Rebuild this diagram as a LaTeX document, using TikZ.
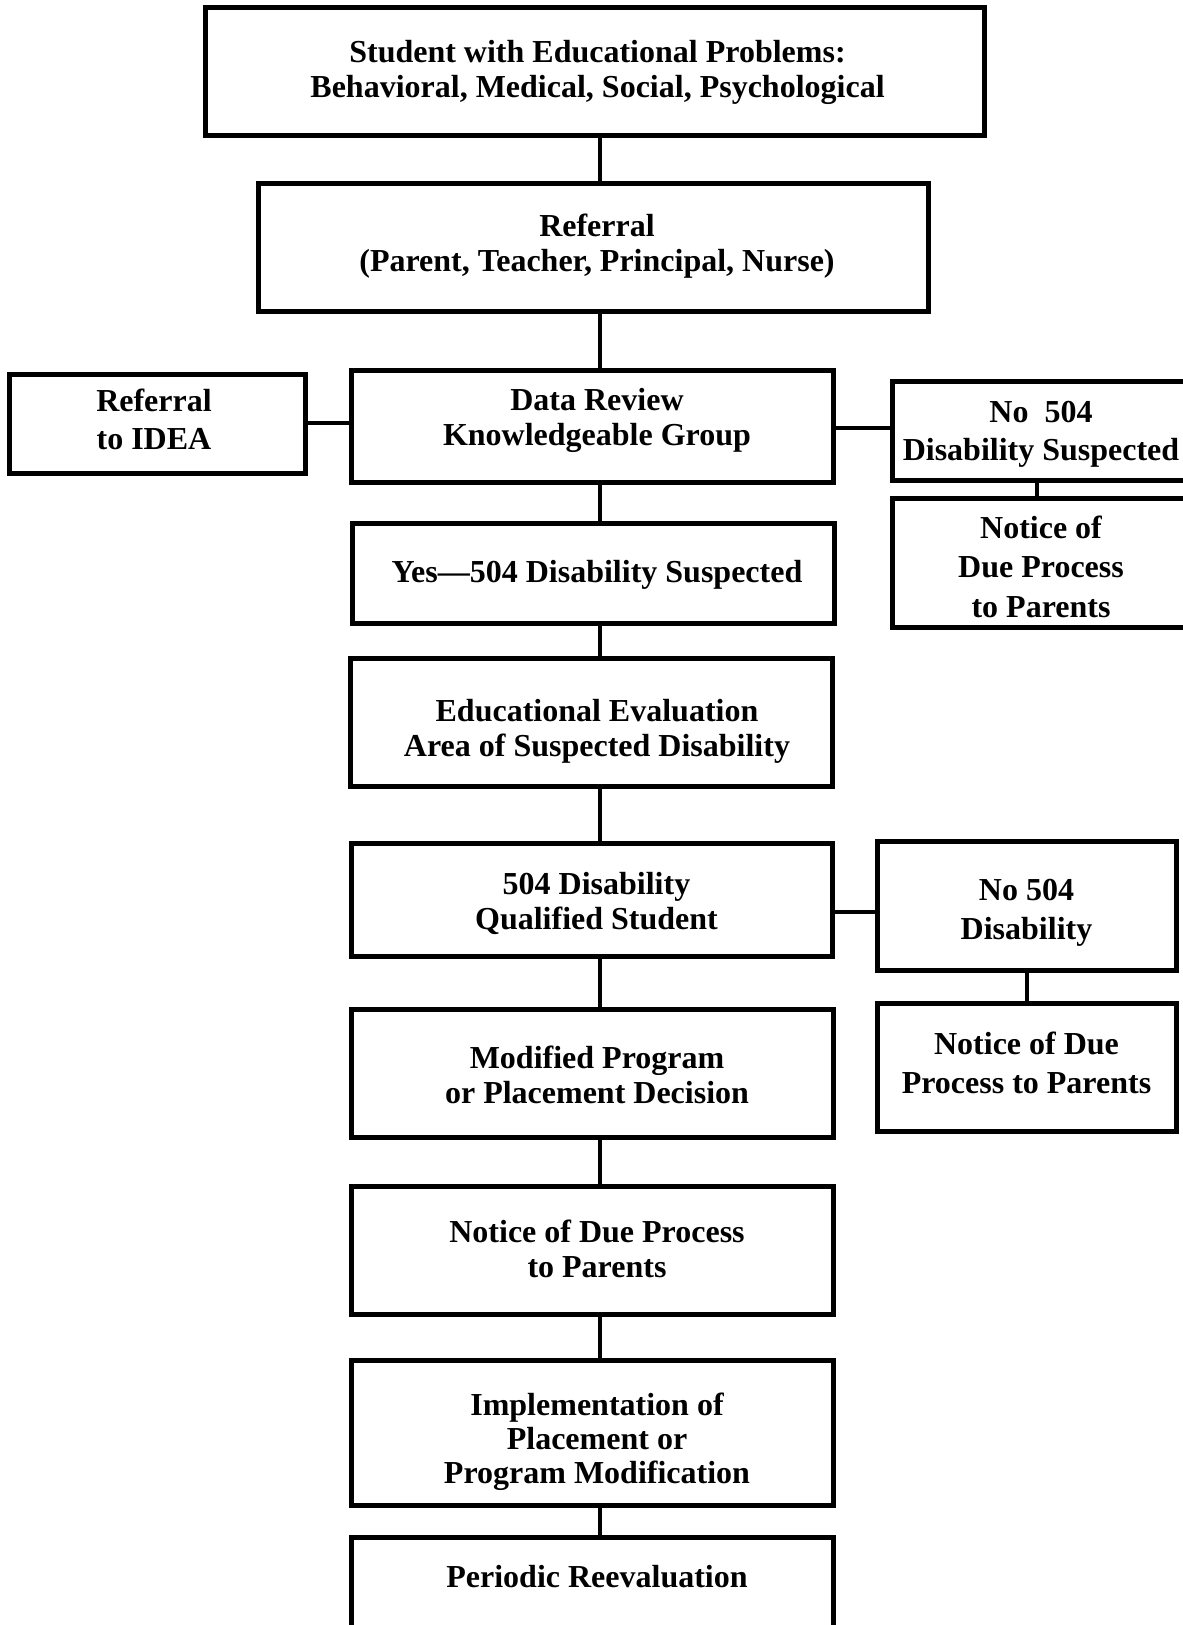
\documentclass[tikz,border=0pt]{standalone}
\usepackage{fontspec}
\setmainfont{Liberation Serif}
\newcommand\flowbox[9]{%
  \node[box, minimum width={#4-#2}, minimum height={#5-#3}] (#1) at ({(#2+#4)/2},{(#3+#5)/2}) {};
  \node[lbl, font=\fontsize{32}{#9}\selectfont\bfseries] (#1t) at ([shift={(#6,#7)}]#1.center) {#8};}
\begin{document}
\begin{tikzpicture}[x=1pt,y=-1pt,
  box/.style={draw, line width=5pt, inner sep=0pt},
  link/.style={line width=4.5pt},
  lbl/.style={align=center, inner sep=0pt}]
\clip (0,0) rectangle (1183,1625);
\fill[white] (0,0) rectangle (1183,1625);
\flowbox{top}{205}{7}{984}{135}{3}{1}{Student with Educational Problems:\\Behavioral, Medical, Social, Psychological}{35}
\flowbox{ref}{258}{183}{928}{311}{4}{-1}{Referral\\(Parent, Teacher, Principal, Nurse)}{35}
\flowbox{idea}{9}{374}{305}{473}{-3}{-4}{Referral\\to IDEA}{38}
\flowbox{data}{351}{370}{833}{482}{5}{-6}{Data Review\\Knowledgeable Group}{35}
\flowbox{nosus}{892}{381}{1190}{480}{0}{4}{No\hspace{0.5em}504\\Disability Suspected}{38}
\flowbox{nrone}{892}{498}{1190}{627}{0}{4}{Notice of\\Due Process\\to Parents}{39.5}
\flowbox{yes}{352}{523}{834}{623}{4}{2}{Yes---504 Disability Suspected}{35}
\flowbox{eval}{350}{658}{832}{786}{6}{9}{Educational Evaluation\\Area of Suspected Disability}{35}
\flowbox{qual}{351}{843}{832}{956}{5}{4}{504 Disability\\Qualified Student}{35}
\flowbox{nodis}{877}{841}{1176}{970}{0}{7}{No 504\\Disability}{39}
\flowbox{nrtwo}{877}{1003}{1176}{1131}{0}{-4}{Notice of Due\\Process to Parents}{39}
\flowbox{mod}{351}{1009}{833}{1137}{5}{2}{Modified Program\\or Placement Decision}{35}
\flowbox{notice}{351}{1186}{833}{1314}{5}{-1}{Notice of Due Process\\to Parents}{35}
\flowbox{impl}{351}{1360}{833}{1505}{5}{9}{Implementation of\\Placement or\\Program Modification}{34}
\flowbox{period}{351}{1537}{833}{1665}{5}{-24}{Periodic Reevaluation}{35}
\coordinate (spine) at (600,0);
\coordinate (hA) at (0,423);
\coordinate (hB) at (0,428);
\coordinate (hC) at (0,912);
\coordinate (rA) at (1037,0);
\coordinate (rB) at (1027,0);
\draw[link] (top.south -| spine) -- (ref.north -| spine);
\draw[link] (ref.south -| spine) -- (data.north -| spine);
\draw[link] (idea.east |- hA) -- (data.west |- hA);
\draw[link] (data.east |- hB) -- (nosus.west |- hB);
\draw[link] (nosus.south -| rA) -- (nrone.north -| rA);
\draw[link] (data.south -| spine) -- (yes.north -| spine);
\draw[link] (yes.south -| spine) -- (eval.north -| spine);
\draw[link] (eval.south -| spine) -- (qual.north -| spine);
\draw[link] (qual.east |- hC) -- (nodis.west |- hC);
\draw[link] (nodis.south -| rB) -- (nrtwo.north -| rB);
\draw[link] (qual.south -| spine) -- (mod.north -| spine);
\draw[link] (mod.south -| spine) -- (notice.north -| spine);
\draw[link] (notice.south -| spine) -- (impl.north -| spine);
\draw[link] (impl.south -| spine) -- (period.north -| spine);
\end{tikzpicture}
\end{document}
